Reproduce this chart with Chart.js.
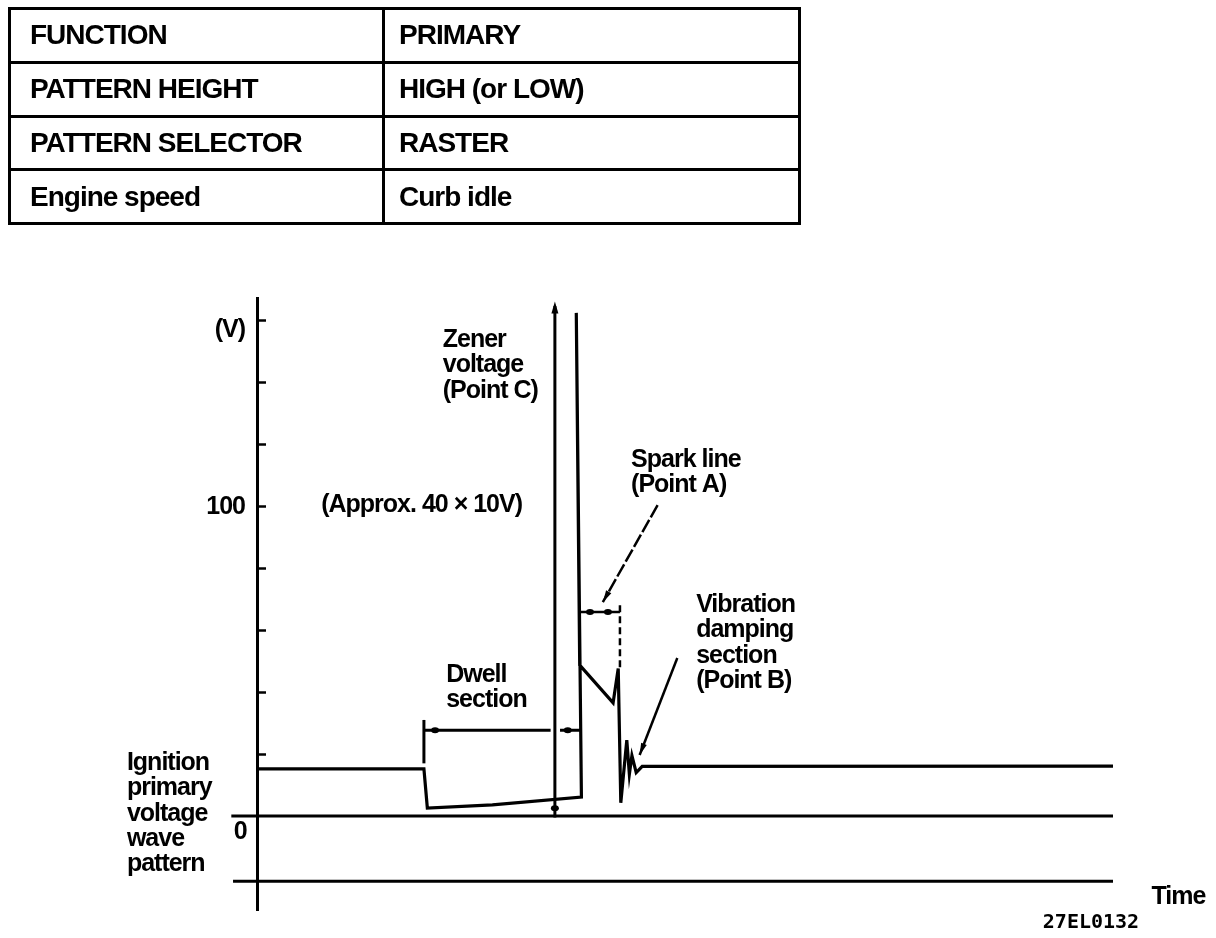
<!DOCTYPE html>
<html lang="en">
<head>
    <meta charset="UTF-8">
    <title>Ignition primary voltage wave pattern</title>
    <script src="https://cdn.jsdelivr.net/npm/chart.js"></script>
    <style>
        body { margin: 0; background: #fff; }
        #wrap { position: absolute; left: 0; top: 0; width: 1216px; height: 938px; }
        table {
            position: absolute; left: 8px; top: 7px; width: 793px; height: 218px;
            border-collapse: collapse; table-layout: fixed; z-index: 2;
            font: bold 28px "Liberation Sans", Arial, sans-serif; letter-spacing: -1px;
        }
        td { border: 3px solid #000; padding: 0 0 0 14px; white-space: nowrap; line-height: 30px; }
        td.key { padding-left: 19px; }
    </style>
</head>
<body>
<div id="wrap">
    <table>
        <colgroup><col style="width:374px"><col></colgroup>
        <tr><td class="key">FUNCTION</td><td>PRIMARY</td></tr>
        <tr><td class="key">PATTERN HEIGHT</td><td>HIGH (or LOW)</td></tr>
        <tr><td class="key">PATTERN SELECTOR</td><td>RASTER</td></tr>
        <tr><td class="key">Engine speed</td><td>Curb idle</td></tr>
    </table>
    <canvas id="waveChart" width="1216" height="938"></canvas>
</div>

<script>
// waveform (time in arbitrary units, volts)
const timeAxis = [0, 19.5, 19.9, 27.5, 37.9, 37.3, 37.7, 41.6, 42.2, 42.5, 43.2, 43.5, 43.8, 44.3, 45.0, 100];
const voltage  = [15.2, 15.2, 2.6, 3.6, 6.1, 162.3, 48.7, 36.5, 47.6, 4.3, 24.5, 13.5, 19.5, 14.0, 16.0, 16.1];

const yTickValues = [20, 40, 60, 80, 100, 120, 140, 160];
const lowerTrace = -21;

// marker / dimension lines
const sparkMarkX = [42.4, 42.4];
const sparkMarkV = [68, 48];
const zenerX = [34.8, 34.8];
const zenerV = [-0.5, 164.5];
const dwellTickX = [19.5, 19.5];
const dwellTickV = [17, 31];
const dwellDimX = [19.5, 34.3, null, 35.4, 37.9];
const dwellDimV = [27.7, 27.7, null, 27.7, 27.7];
const sparkDimX = [37.8, 42.4];
const sparkDimV = [65.8, 65.8];
const sparkArrowX = [46.8, 40.4];
const sparkArrowV = [100.3, 69.0];
const vibArrowX = [49.1, 44.7];
const vibArrowV = [51.0, 19.7];

const FONT = 'bold 25px "Liberation Sans", Arial, sans-serif';

function pts(xs, ys) {
    return xs.map((x, i) => (x === null ? { x: NaN, y: NaN } : { x: x, y: ys[i] }));
}

function line(data, width, extra) {
    return Object.assign({
        data: data, borderColor: '#000', borderWidth: width, pointRadius: 0,
        fill: false, tension: 0, spanGaps: false
    }, extra || {});
}

const labels = [
    { t: ['(V)'], x: -1.4, v: 160, align: 'right', dy: 10 },
    { t: ['100'], x: -1.4, v: 100, align: 'right', dy: 1 },
    { t: ['0'], x: -1.2, v: 0, align: 'right', dy: 16 },
    { t: ['Zener', 'voltage', '(Point C)'], x: 21.7, v: 153.5, align: 'left' },
    { t: ['(Approx. 40 \u00d7 10V)'], x: 7.5, v: 100.3, align: 'left' },
    { t: ['Spark line', '(Point A)'], x: 43.7, v: 114.8, align: 'left' },
    { t: ['Vibration', 'damping', 'section', '(Point B)'], x: 51.3, v: 68, align: 'left' },
    { t: ['Dwell', 'section'], x: 22.1, v: 45.5, align: 'left' },
    { t: ['Ignition', 'primary', 'voltage', 'wave', 'pattern'], x: -15.2, v: 17.1, align: 'left' },
    { t: ['Time'], x: 104.5, v: -26.1, align: 'left' }
];

const dots = [
    { x: 20.8, v: 27.7 }, { x: 36.3, v: 27.7 },
    { x: 38.9, v: 65.8 }, { x: 41.0, v: 65.8 },
    { x: 34.8, v: 2.5 }
];

const drawingPlugin = {
    id: 'drawing',
    afterDatasetsDraw(chart) {
        const ctx = chart.ctx;
        const xs = chart.scales.x;
        const ys = chart.scales.y;
        const left = chart.chartArea.left;
        ctx.save();
        ctx.strokeStyle = '#000';
        ctx.fillStyle = '#000';

        // inner tick marks
        ctx.lineWidth = 2.5;
        yTickValues.forEach(v => {
            const py = Math.round(ys.getPixelForValue(v)) + 0.5;
            ctx.beginPath();
            ctx.moveTo(left, py);
            ctx.lineTo(left + 9, py);
            ctx.stroke();
        });

        // arrow heads
        function head(x1, v1, x2, v2, len, half) {
            const ax = xs.getPixelForValue(x1), ay = ys.getPixelForValue(v1);
            const bx = xs.getPixelForValue(x2), by = ys.getPixelForValue(v2);
            const a = Math.atan2(by - ay, bx - ax);
            ctx.beginPath();
            ctx.moveTo(bx, by);
            ctx.lineTo(bx - len * Math.cos(a) + half * Math.sin(a), by - len * Math.sin(a) - half * Math.cos(a));
            ctx.lineTo(bx - len * Math.cos(a) - half * Math.sin(a), by - len * Math.sin(a) + half * Math.cos(a));
            ctx.closePath();
            ctx.fill();
        }
        head(sparkArrowX[0], sparkArrowV[0], sparkArrowX[1], sparkArrowV[1], 12, 3);
        head(vibArrowX[0], vibArrowV[0], vibArrowX[1], vibArrowV[1], 12, 3);
        head(zenerX[0], zenerV[0], zenerX[1], zenerV[1] + 1.5, 12, 3.5);

        dots.forEach(d => {
            ctx.beginPath();
            ctx.ellipse(xs.getPixelForValue(d.x), ys.getPixelForValue(d.v), 4, 3, 0, 0, Math.PI * 2);
            ctx.fill();
        });

        // texts
        ctx.font = FONT;
        ctx.letterSpacing = '-1px';
        ctx.textBaseline = 'middle';
        labels.forEach(l => {
            ctx.textAlign = l.align;
            const px = xs.getPixelForValue(l.x);
            const py = ys.getPixelForValue(l.v) + (l.dy || 0);
            l.t.forEach((s, i) => ctx.fillText(s, px, py + i * 25.3));
        });

        ctx.letterSpacing = '0px';
        ctx.font = 'bold 20px "DejaVu Sans Mono", monospace';
        ctx.textAlign = 'left';
        ctx.fillText('27EL0132', xs.getPixelForValue(91.8), ys.getPixelForValue(-34.5));
        ctx.restore();
    }
};

new Chart(document.getElementById('waveChart'), {
    type: 'line',
    data: {
        datasets: [
            line(pts(timeAxis, voltage), 3.2),
            line([{ x: -3.0, y: 0 }, { x: 100, y: 0 }], 3, { clip: false }),
            line([{ x: -2.8, y: lowerTrace }, { x: 100, y: lowerTrace }], 3, { clip: false }),
            line(pts(sparkMarkX, sparkMarkV), 2.5, { borderDash: [7, 4] }),
            line(pts(zenerX, zenerV), 3, { clip: false }),
            line(pts(dwellTickX, dwellTickV), 3),
            line(pts(dwellDimX, dwellDimV), 3),
            line(pts(sparkDimX, sparkDimV), 2.5),
            line(pts(sparkArrowX, sparkArrowV), 2.5, { borderDash: [14, 3] }),
            line(pts(vibArrowX, vibArrowV), 2.5)
        ]
    },
    options: {
        responsive: false,
        animation: false,
        layout: { padding: { left: 257, right: 103, top: 298, bottom: 28 } },
        plugins: { legend: { display: false }, tooltip: { enabled: false } },
        scales: {
            x: { type: 'linear', min: 0, max: 100, display: false },
            y: {
                type: 'linear', min: -30.3, max: 167.1,
                afterFit(scale) { scale.width = 0; },
                ticks: { display: false },
                grid: { display: false, drawTicks: false },
                border: { display: true, color: '#000', width: 3 }
            }
        }
    },
    plugins: [drawingPlugin]
});
</script>
</body>
</html>
